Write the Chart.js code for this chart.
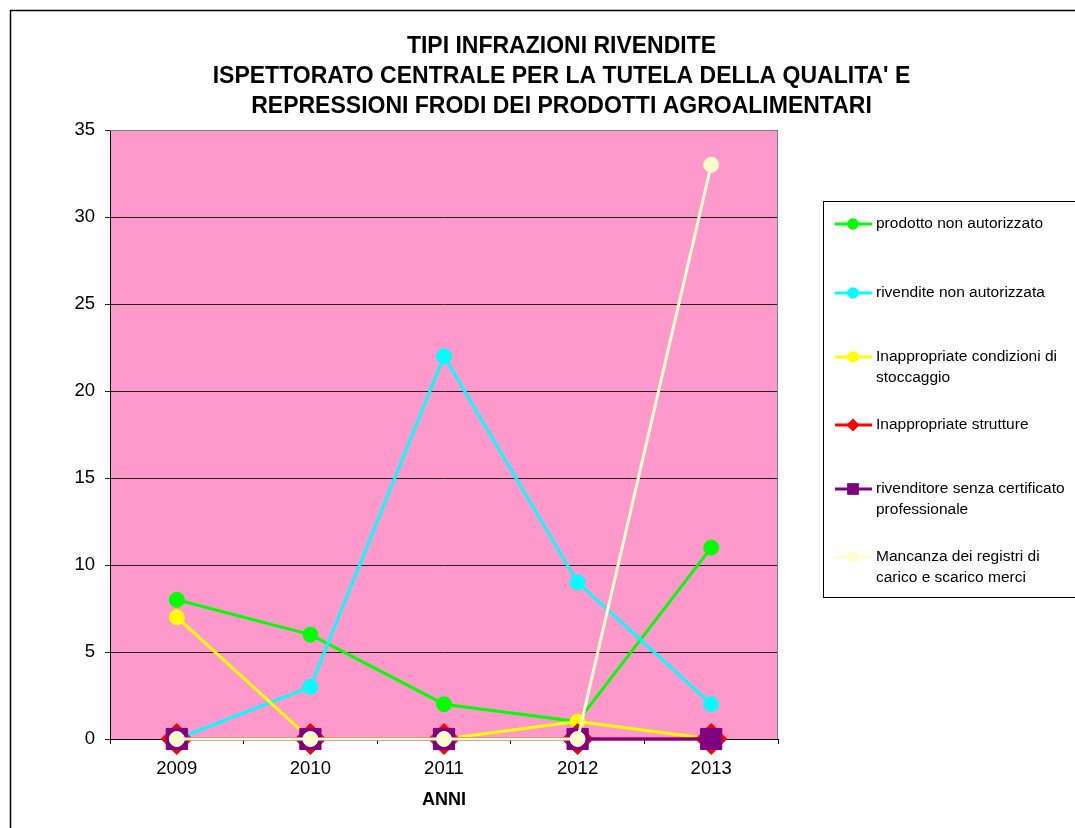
<!DOCTYPE html>
<html>
<head>
<meta charset="utf-8">
<script src="https://cdn.jsdelivr.net/npm/chart.js@4.4.0/dist/chart.umd.min.js"></script>
<style>
  html, body { margin: 0; padding: 0; background: #fff; overflow: hidden; }
  #wrap { position: relative; width: 1123px; height: 828px; }
</style>
</head>
<body>
<div id="wrap"><canvas id="chart"></canvas></div>
<script>
// values
const years = ['2009', '2010', '2011', '2012', '2013'];
const prodottoNonAutorizzato = [8, 6, 2, 1, 11];
const rivenditeNonAutorizzata = [0, 3, 22, 9, 2];
const condizioniStoccaggio = [7, 0, 0, 1, 0];
const struttureInappropriate = [0, 0, 0, 0, 0];
const senzaCertificato = [0, 0, 0, 0, 0];
const mancanzaRegistri = [0, 0, 0, 0, 33];

const seriesNames = [
  ['prodotto non autorizzato'],
  ['rivendite non autorizzata'],
  ['Inappropriate condizioni di', 'stoccaggio'],
  ['Inappropriate strutture'],
  ['rivenditore senza certificato', 'professionale'],
  ['Mancanza dei registri di', 'carico e scarico merci'],
];
const titleLines = [
  'TIPI INFRAZIONI RIVENDITE',
  "ISPETTORATO CENTRALE PER LA TUTELA DELLA QUALITA' E",
  'REPRESSIONI FRODI DEI PRODOTTI AGROALIMENTARI',
];
const xTitle = 'ANNI';

const FONT = "'Liberation Sans', Arial, sans-serif";

const seriesStyle = [
  {color: '#00FF00', point: 'circle', r: 7.5, lr: 5.8},
  {color: '#00FFFF', point: 'circle', r: 7.5, lr: 5.8},
  {color: '#FFFF00', point: 'circle', r: 7.5, lr: 5.8},
  {color: '#FF0000', point: 'rectRot', r: 15.5, lr: 6.5},
  {color: '#800080', point: 'rect', r: 15, lr: 8.3},
  {color: '#FFFFCC', point: 'circle', r: 7.5, lr: 5.8},
];

const allSeries = [
  prodottoNonAutorizzato, rivenditeNonAutorizzata, condizioniStoccaggio,
  struttureInappropriate, senzaCertificato, mancanzaRegistri,
];

const datasets = allSeries.map((data, i) => {
  const s = seriesStyle[i];
  return {
    label: seriesNames[i].join(' '),
    data: data,
    borderColor: s.color,
    backgroundColor: s.color,
    borderWidth: 3,
    pointStyle: s.point,
    pointRadius: s.r,
    pointBackgroundColor: s.color,
    pointBorderColor: s.color,
    pointBorderWidth: 1,
    tension: 0,
    clip: false,
    // later series sit on top, like the original
    order: allSeries.length - i,
  };
});

const frame = {
  id: 'frame',
  beforeDraw(chart) {
    const {ctx, chartArea: a} = chart;
    ctx.save();
    ctx.fillStyle = '#FF99CC';
    ctx.fillRect(a.left, a.top, a.right - a.left, a.bottom - a.top);
    ctx.strokeStyle = '#000';
    ctx.lineWidth = 1.5;
    ctx.strokeRect(10.5, 10.5, chart.width + 50, chart.height + 50);
    ctx.restore();
  },
  beforeDatasetsDraw(chart) {
    const {ctx, chartArea: a} = chart;
    ctx.save();
    ctx.strokeStyle = '#808080';
    ctx.lineWidth = 1;
    ctx.beginPath();
    ctx.moveTo(a.left, a.top + 0.5);
    ctx.lineTo(a.right - 0.5, a.top + 0.5);
    ctx.lineTo(a.right - 0.5, a.bottom);
    ctx.stroke();
    ctx.restore();
  },
};

// legend box on the right, Excel style
const legendRowY = [224, 293, 357, 425, 489, 557];
const sideLegend = {
  id: 'sideLegend',
  afterDraw(chart) {
    const {ctx} = chart;
    ctx.save();
    ctx.strokeStyle = '#000';
    ctx.lineWidth = 1;
    ctx.fillStyle = '#fff';
    ctx.fillRect(823.5, 201.5, 400, 396);
    ctx.strokeRect(823.5, 201.5, 400, 396);
    chart.data.datasets.forEach((ds, i) => {
      const y = legendRowY[i];
      const s = seriesStyle[i];
      ctx.strokeStyle = s.color;
      ctx.lineWidth = 3;
      ctx.beginPath();
      ctx.moveTo(835, y);
      ctx.lineTo(872, y);
      ctx.stroke();
      ctx.fillStyle = s.color;
      ctx.strokeStyle = s.color;
      Chart.helpers.drawPoint(ctx, {pointStyle: s.point, radius: s.lr, borderWidth: 0}, 853, y);
      ctx.fillStyle = '#000';
      ctx.font = '15.5px ' + FONT;
      ctx.textBaseline = 'middle';
      ctx.textAlign = 'left';
      seriesNames[i].forEach((line, k) => ctx.fillText(line, 876, y + k * 20.5));
    });
    ctx.restore();
  },
};

new Chart(document.getElementById('chart'), {
  type: 'line',
  data: {labels: years, datasets: datasets},
  plugins: [frame, sideLegend],
  options: {
    responsive: true,
    maintainAspectRatio: false,
    animation: false,
    layout: {padding: {left: 10, right: 10, top: 10, bottom: 0}},
    plugins: {
      legend: {display: false},
      tooltip: {enabled: false},
      title: {
        display: true,
        text: titleLines,
        color: '#000',
        font: {family: FONT, size: 23, weight: 'bold', lineHeight: '30px'},
        padding: {top: 22, bottom: 8},
      },
    },
    scales: {
      x: {
        type: 'category',
        offset: true,
        grid: {display: true, drawOnChartArea: false, drawTicks: true, tickLength: 5, color: '#000', offset: true},
        border: {display: true, color: '#000', width: 1},
        ticks: {color: '#000', font: {family: FONT, size: 18.5}, padding: 14, maxRotation: 0},
        title: {display: true, text: xTitle, color: '#000', font: {family: FONT, size: 18, weight: 'bold'}, padding: {top: 0, bottom: 17}},
        afterFit: (s) => { s.height = 89; },
      },
      y: {
        min: 0,
        max: 35,
        ticks: {stepSize: 5, color: '#000', font: {family: FONT, size: 18.5}, padding: 10},
        grid: {color: '#222', lineWidth: 1, tickLength: 5, drawTicks: true},
        border: {display: true, color: '#000', width: 1},
        afterFit: (s) => { s.width = 100; },
      },
      side: {
        position: 'right',
        display: true,
        ticks: {display: false},
        grid: {display: false},
        border: {display: false},
        afterFit: (s) => { s.width = 335; },
      },
    },
  },
});
</script>
</body>
</html>
